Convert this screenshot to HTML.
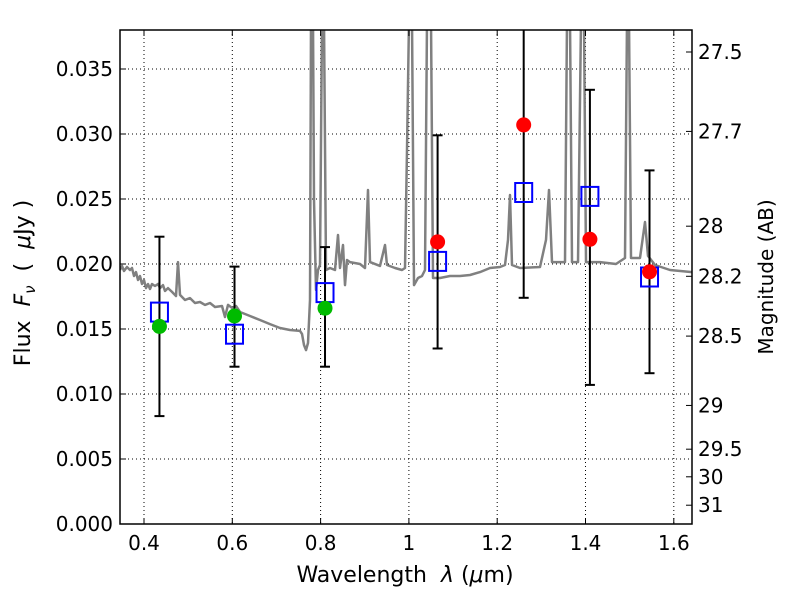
<!DOCTYPE html>
<html><head><meta charset="utf-8"><style>
body{margin:0;background:#fff;}
svg{font-family:"DejaVu Sans","Liberation Sans",sans-serif;}
</style></head><body>
<svg id="chart" width="800" height="600" xmlns="http://www.w3.org/2000/svg">
<rect width="800" height="600" fill="#fff"/>
<g id="grid"></g>
<g id="spec"></g>
<g id="marks"></g>
<g id="axes"></g>
<text x="405" y="582" font-size="22" text-anchor="middle" style="white-space:pre">Wavelength  <tspan font-style="italic">λ</tspan> (<tspan font-style="italic">μ</tspan>m)</text>
<text transform="translate(30,283) rotate(-90)" font-size="22" text-anchor="middle" style="white-space:pre">Flux  <tspan font-style="italic">F</tspan><tspan font-style="italic" font-size="15" dy="5">ν</tspan><tspan dy="-5">  (  </tspan><tspan font-style="italic">μ</tspan>Jy )</text>
<text transform="translate(773,277) rotate(-90)" font-size="20" text-anchor="middle">Magnitude (AB)</text>
</svg>
<script>
const xTicks=[0.4,0.6,0.8,1,1.2,1.4,1.6];
const xTickLabels=["0.4","0.6","0.8","1","1.2","1.4","1.6"];
const yTicks=[0,0.005,0.01,0.015,0.02,0.025,0.03,0.035];
const yTickLabels=["0.000","0.005","0.010","0.015","0.020","0.025","0.030","0.035"];
const magTicks=[27.5,27.7,28,28.2,28.5,29,29.5,30,31];
const magLabels=["27.5","27.7","28","28.2","28.5","29","29.5","30","31"];
const bandWave=[0.435,0.605,0.81,1.065,1.26,1.41,1.545];
const modelFlux=[0.0163,0.0146,0.0178,0.0202,0.0255,0.0252,0.0190];
const obsWave=[0.435,0.605,0.81,1.065,1.26,1.41,1.545];
const obsFlux=[0.0152,0.0160,0.0166,0.0217,0.0307,0.0219,0.0194];
const obsErrLo=[0.0083,0.0121,0.0121,0.0135,0.0174,0.0107,0.0116];
const obsErrHi=[0.0221,0.0198,0.0213,0.0299,0.040,0.0334,0.0272];
const obsColor=["#00bb00","#00bb00","#00bb00","#ff0000","#ff0000","#ff0000","#ff0000"];
const specPx=[[120,270],[122,266],[124,271],[127,267],[130,270],[132,268],[134,276],[136,272],[138,280],[140,276],[142,284],[144,280],[146,288],[148,284],[150,289],[152,284],[155,286],[158,284],[160,288],[163,285],[165,291],[168,288],[172,292],[176,296],[178,262],[180,295],[185,300],[190,298],[195,303],[200,302],[205,305],[210,303],[215,307],[222,306],[225,317],[228,305],[232,308],[236,306],[240,312],[250,316],[260,320],[270,324],[280,328],[290,330],[300,331],[302,334],[304,345],[306,350],[308,343],[310,300],[311,20],[313,20],[314,200],[316,290],[318,270],[320,265],[322,20],[324,20],[326,270],[330,268],[335,270],[338,235],[340,268],[343,245],[345,285],[347,260],[350,262],[360,264],[365,268],[368,190],[370,262],[380,266],[385,245],[387,265],[395,268],[402,270],[405,268],[407,150],[409,20],[412,20],[414,285],[418,278],[422,276],[425,270],[427,20],[431,20],[433,278],[440,278],[450,276],[460,276],[470,275],[480,272],[490,268],[500,267],[505,265],[508,240],[510,195],[512,265],[520,268],[540,267],[546,240],[549,190],[552,262],[560,262],[565,262],[567,20],[570,20],[572,262],[578,262],[581,20],[584,20],[586,262],[600,262],[616,264],[625,258],[627,20],[629,20],[631,258],[640,258],[645,222],[648,256],[655,265],[670,270],[692,272]];
const spectrumWave=specPx.map(p=>+(0.4+(p[0]-144)/441.5).toFixed(4));
const spectrumFlux=specPx.map(p=>+((524-p[1])/13000).toFixed(5));

const L=120,R=692,T=30,B=524;
const X=v=>144+(v-0.4)*441.5;
const Y=v=>B-v*13000;
const NS="http://www.w3.org/2000/svg";
function mk(tag,attrs,parent){const e=document.createElementNS(NS,tag);for(const k in attrs)e.setAttribute(k,attrs[k]);parent.appendChild(e);return e;}
const grid=document.getElementById('grid'),axes=document.getElementById('axes'),spec=document.getElementById('spec'),marks=document.getElementById('marks');
xTicks.forEach((t,i)=>{const x=X(t);
 let g=mk('line',{x1:x,x2:x,y1:T,y2:B,stroke:'#000','stroke-width':1,'stroke-dasharray':'1,3'},grid);
 
 mk('line',{x1:x,x2:x,y1:B,y2:B-6,stroke:'#000'},axes);mk('line',{x1:x,x2:x,y1:T,y2:T+6,stroke:'#000'},axes);
 let tx=mk('text',{x:x,y:B+26,'font-size':20,'text-anchor':'middle'},axes);tx.textContent=xTickLabels[i];
 });
yTicks.forEach((t,i)=>{const y=Y(t);
 if(t>0){let g=mk('line',{x1:L,x2:R,y1:y,y2:y,stroke:'#000','stroke-width':1,'stroke-dasharray':'1,3'},grid);
 }
 mk('line',{x1:L,x2:L+6,y1:y,y2:y,stroke:'#000'},axes);
 let tx=mk('text',{x:113,y:y+7,'font-size':20,'text-anchor':'end'},axes);tx.textContent=yTickLabels[i];
 });
magTicks.forEach((m,i)=>{const y=Y(Math.pow(10,(23.9-m)/2.5));
 mk('line',{x1:R,x2:R-6,y1:y,y2:y,stroke:'#000'},axes);
 let tx=mk('text',{x:698,y:y+7,'font-size':20},axes);tx.textContent=magLabels[i];
 });
let cp=mk('clipPath',{id:'cp'},spec);mk('rect',{x:L,y:T,width:R-L,height:B-T},cp);
let d=spectrumWave.map((w,i)=>(i?'L':'M')+X(w).toFixed(1)+','+Y(spectrumFlux[i]).toFixed(1)).join(' ');
let pl=mk('path',{d:d,fill:'none',stroke:'#808080','stroke-width':2.5,'stroke-linejoin':'round','clip-path':'url(#cp)'},spec);

mk('clipPath',{id:'cp2'},marks).appendChild(cp.firstChild.cloneNode());
obsWave.forEach((w,i)=>{const x=X(w);
 let g=mk('g',{'clip-path':'url(#cp2)'},marks);
 
 mk('line',{x1:x,x2:x,y1:Y(obsErrLo[i]),y2:Y(obsErrHi[i]),stroke:'#000','stroke-width':2},g);
 mk('line',{x1:x-5,x2:x+5,y1:Y(obsErrLo[i]),y2:Y(obsErrLo[i]),stroke:'#000','stroke-width':2},g);
 mk('line',{x1:x-5,x2:x+5,y1:Y(obsErrHi[i]),y2:Y(obsErrHi[i]),stroke:'#000','stroke-width':2},g);});
bandWave.forEach((w,i)=>{let r=mk('rect',{x:X(w)-8.5,y:Y(modelFlux[i])-9.5,width:17,height:19,fill:'none',stroke:'#0000ff','stroke-width':2},marks);
 });
obsWave.forEach((w,i)=>{let c=mk('circle',{cx:X(w),cy:Y(obsFlux[i]),r:7.5,fill:obsColor[i]},marks);
 });
let fr=mk('rect',{x:L,y:T,width:R-L,height:B-T,fill:'none',stroke:'#000','stroke-width':1.5},axes);

</script>
</body></html>
